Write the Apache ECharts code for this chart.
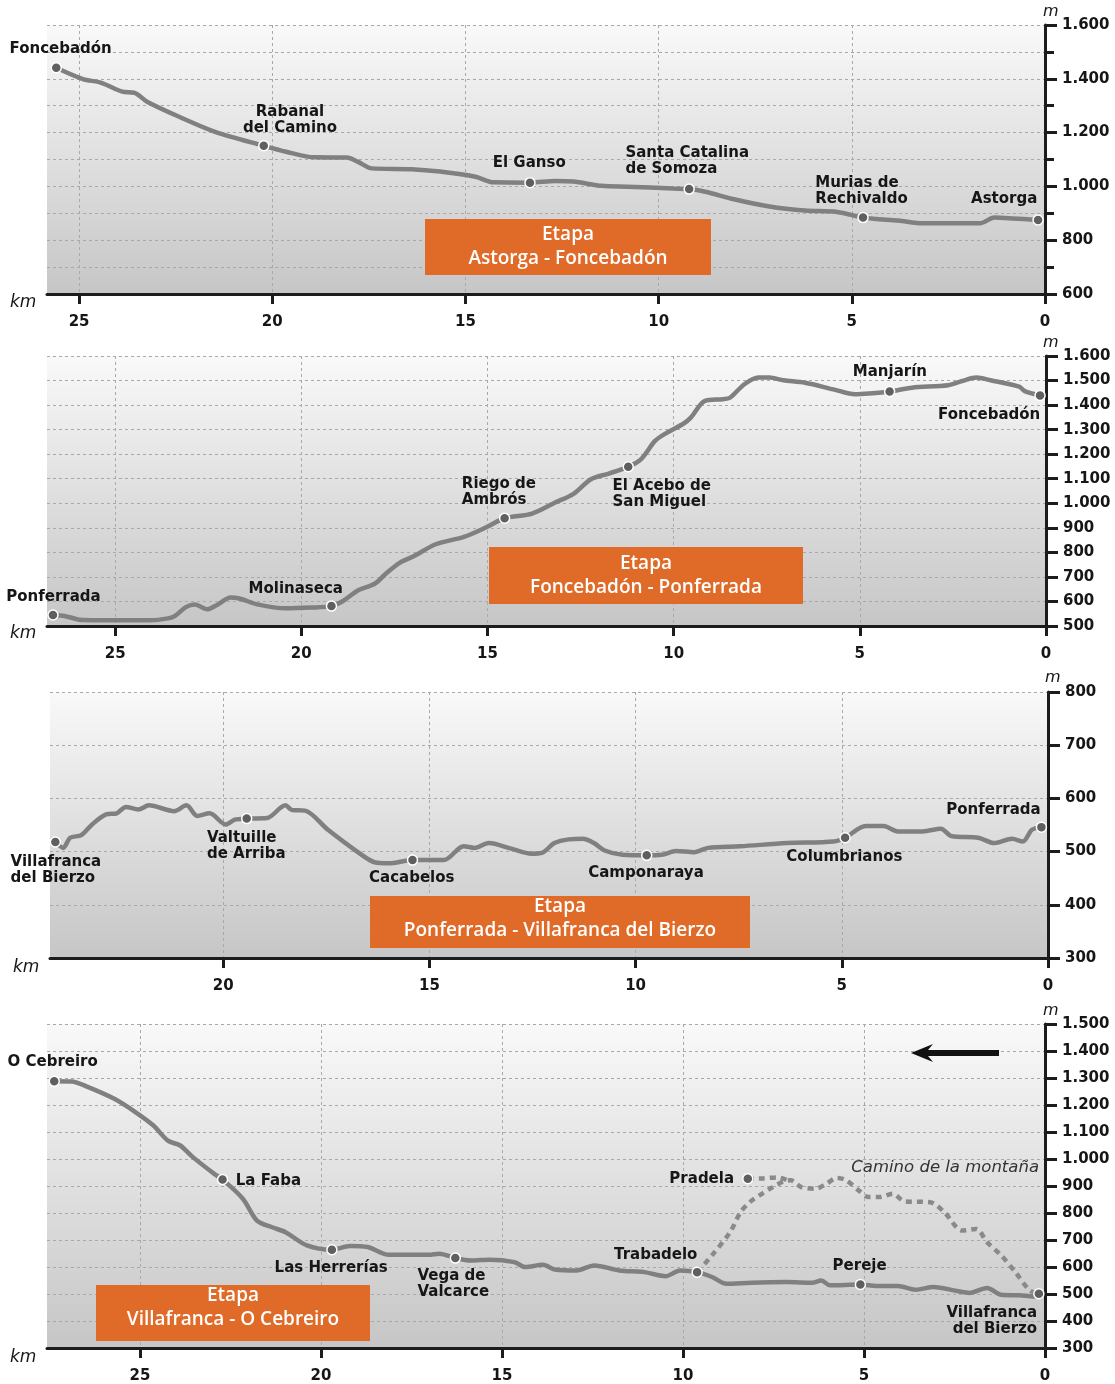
<!DOCTYPE html>
<html><head><meta charset="utf-8">
<script src="https://cdn.jsdelivr.net/npm/echarts@6.0.0/dist/echarts.min.js"></script>
<style>html,body{margin:0;padding:0;background:#fff}#c{width:1115px;height:1384px}</style>
</head><body><div id="c"></div>
<script>
// ---------- DATA ----------
// Panel 1: Astorga - Foncebadón
const p1Km   = [25.59,24.90,24.44,23.88,23.56,23.24,22.41,21.48,20.22,19.64,18.90,18.07,17.79,17.42,16.40,15.66,14.74,14.28,13.33,12.67,12.21,11.47,10.82,9.62,9.21,8.79,8.05,7.13,6.21,5.38,4.71,4.36,3.80,3.16,1.68,1.31,0.85,0.18];
const p1Elev = [1441,1399,1386,1352,1348,1315,1259,1203,1151,1129,1108,1107,1092,1067,1064,1055,1036,1015,1014,1020,1018,1002,999,992,990,980,952,925,910,905,884,879,873,863,863,884,881,875];
const t1Names = ['Foncebadón','Rabanal\ndel Camino','El Ganso','Santa Catalina\nde Somoza','Murias de\nRechivaldo','Astorga'];
const t1Km    = [25.59,20.22,13.33,9.21,4.71,0.18];
const t1Elev  = [1441,1151,1014,990,884,875];

// Panel 2: Foncebadón - Ponferrada
const p2Km   = [26.67,26.36,25.88,25.21,24.06,23.58,23.39,23.10,22.86,22.53,22.24,21.90,21.66,21.18,20.42,19.75,19.19,18.88,18.50,18.02,17.73,17.35,16.97,16.39,15.63,15.05,14.54,13.80,13.18,12.70,12.22,11.74,11.22,10.88,10.50,10.21,9.73,9.54,9.16,8.68,8.49,8.10,7.72,7.43,7.05,6.47,5.71,5.13,4.75,4.20,3.60,2.63,2.25,1.87,1.49,0.72,0.57,0.16];
const p2Elev = [545,541,524,523,523,531,541,577,588,568,588,616,612,588,572,575,581,602,643,673,713,758,785,833,863,901,939,958,1003,1037,1098,1121,1149,1179,1254,1285,1325,1349,1417,1424,1430,1485,1512,1512,1501,1491,1464,1444,1447,1455,1471,1481,1498,1512,1501,1475,1457,1439];
const t2Names = ['Ponferrada','Molinaseca','Riego de\nAmbrós','El Acebo de\nSan Miguel','Manjarín','Foncebadón'];
const t2Km    = [26.67,19.19,14.54,11.22,4.20,0.16];
const t2Elev  = [545,581,939,1149,1455,1439];

// Panel 3: Ponferrada - Villafranca del Bierzo
const p3Km   = [24.07,23.88,23.71,23.44,23.18,22.84,22.58,22.36,22.06,21.80,21.19,20.89,20.63,20.33,19.94,19.72,19.43,18.94,18.49,18.33,18.02,17.46,16.77,16.33,15.99,15.41,14.65,14.17,13.91,13.56,13.04,12.52,12.26,11.97,11.62,11.28,11.01,10.75,10.32,9.73,9.37,9.02,8.58,8.24,7.46,6.33,5.20,4.92,4.42,3.99,3.64,3.04,2.60,2.34,1.69,1.30,0.87,0.61,0.39,0.16];
const p3Elev = [518,507,526,531,551,570,572,584,579,587,576,587,567,572,551,560,562,563,587,578,577,541,501,480,478,484,484,510,507,516,506,496,498,516,523,524,516,502,494,493,494,501,499,507,510,516,519,526,548,548,538,538,543,529,526,516,524,519,541,546];
const t3Names = ['Villafranca\ndel Bierzo','Valtuille\nde Arriba','Cacabelos','Camponaraya','Columbrianos','Ponferrada'];
const t3Km    = [24.07,19.43,15.41,9.73,4.92,0.16];
const t3Elev  = [518,562,484,493,526,546];

// Panel 4: Villafranca - O Cebreiro
const p4Km   = [27.37,26.89,26.50,25.71,25.12,24.63,24.23,23.89,23.54,22.95,22.72,22.16,21.77,21.37,20.98,20.39,19.70,19.20,18.71,18.12,17.03,16.73,16.29,15.85,15.35,14.66,14.36,13.87,13.54,12.94,12.45,11.76,11.07,10.48,10.08,9.61,9.20,8.80,8.11,7.13,6.43,6.18,5.94,5.10,4.66,4.07,3.57,3.08,2.39,2.09,1.60,1.21,0.71,0.31,0.17];
const p4Elev = [1288,1287,1270,1223,1173,1124,1068,1050,1007,945,924,853,772,748,729,680,664,678,674,645,645,649,633,624,627,618,600,608,591,587,606,587,581,566,587,581,563,538,542,544,542,550,532,535,530,530,516,526,510,504,522,497,495,491,501];
const mtKm   = [9.61,9.20,8.70,8.41,8.16,7.82,7.52,7.22,7.03,6.73,6.34,6.04,5.75,5.49,5.15,4.86,4.56,4.21,3.87,3.18,2.78,2.29,1.90,1.60,1.21,0.82,0.42,0.17];
const mtElev = [581,643,729,803,840,871,896,917,921,896,890,908,930,921,884,859,859,871,843,840,803,735,741,692,643,581,513,501];
const spurKm   = [8.21,7.80,7.40,7.10];
const spurElev = [927,928,932,921];
const t4Names = ['O Cebreiro','La Faba','Las Herrerías','Vega de\nValcarce','Trabadelo','Pradela','Pereje','Villafranca\ndel Bierzo'];
const t4Km    = [27.37,22.72,19.70,16.29,9.61,8.21,5.10,0.17];
const t4Elev  = [1288,924,664,633,581,927,535,501];
const mtName = 'Camino de la montaña';

const stageTitles = ['Etapa\nAstorga - Foncebadón','Etapa\nFoncebadón - Ponferrada','Etapa\nPonferrada - Villafranca del Bierzo','Etapa\nVillafranca - O Cebreiro'];
const kmTicks = [0,5,10,15,20,25];
const kmMax   = [25.83,26.83,24.2,27.57];
const elevMin = [600,500,300,300];
const elevMax = [1600,1600,800,1500];
const elevStep= [200,100,100,100];

// ---------- STYLE / LAYOUT ----------
const grids = [
  {left:47, top:25,   width:998, height:269},
  {left:47, top:356,  width:999, height:270},
  {left:50, top:692,  width:998, height:266},
  {left:47, top:1024, width:998, height:325}
];
// label placement [align, dx, dy] per town (relative to the dot centre)
const place = [
  [['left',-46,-19],['center',27,-26],['center',0,-20],['left',-63,-28],['left',-47,-27],['right',0,-21]],
  [['left',-46,-18],['center',-35,-17],['left',-42,-26],['left',-15,27],['center',1,-20],['right',1,19]],
  [['left',-44,28],['left',-39,27],['center',0,18],['center',0,18],['center',0,19],['right',0,-17]],
  [['left',-46,-19],['left',14,1],['center',0,18],['left',-37,26],['right',1,-17],['right',-13,0],['center',0,-19],['right',-1,27]]
];
const boxes = [
  {x:425,y:219,w:286,h:56,ty:247},
  {x:489,y:547,w:314,h:57,ty:576},
  {x:370,y:896,w:380,h:52,ty:919},
  {x:96,y:1285,w:274,h:56,ty:1308}
];
const kmLabelPos = [[10,303],[10,634],[13,968],[10,1358]];
const mLabelPos  = [[1043,12],[1043,343],[1045,678],[1043,1011]];

const FONT = 'DejaVu Sans';
const AX = '#1c1c1c';
const TXT = '#161616';
const DOT = 10;
const zip = (a,b) => a.map((v,i)=>[v,b[i]]);
function yFmt(v){ return v>=1000 ? Math.floor(v/1000)+'.'+String(v%1000).padStart(3,'0') : String(v); }

const profiles = [[p1Km,p1Elev],[p2Km,p2Elev],[p3Km,p3Elev],[p4Km,p4Elev]];
const towns = [[t1Names,t1Km,t1Elev],[t2Names,t2Km,t2Elev],[t3Names,t3Km,t3Elev],[t4Names,t4Km,t4Elev]];

const chart = echarts.init(document.getElementById('c'), null, {renderer:'canvas'});
const bg = () => new echarts.graphic.LinearGradient(0,0,0,1,[{offset:0,color:'#f9f9f9'},{offset:1,color:'#c6c6c6'}]);
const dash = {type:[3,3], color:'#a9a9a9', width:1};

const option = {
  animation:false,
  backgroundColor:'#ffffff',
  grid: grids.map(g => Object.assign({show:true, borderWidth:0, backgroundColor:bg(), containLabel:false}, g)),
  xAxis: grids.map((g,i)=>({
    type:'value', gridIndex:i, inverse:true, min:0, max:kmMax[i], interval:5,
    axisLine:{show:true, onZero:false, lineStyle:{color:AX, width:3}},
    axisTick:{show:true, customValues:kmTicks.filter(v=>v<=kmMax[i]), length:10, lineStyle:{color:AX, width:3}},
    axisLabel:{customValues:kmTicks.filter(v=>v<=kmMax[i]), margin:21, fontSize:15, fontWeight:'bold', fontFamily:FONT, color:TXT},
    splitLine:{show:true, lineStyle:dash}
  })),
  yAxis: grids.map((g,i)=>({
    type:'value', gridIndex:i, position:'right', min:elevMin[i], max:elevMax[i], interval:elevStep[i],
    axisLine:{show:true, lineStyle:{color:AX, width:3}},
    axisTick:{show:true, length:12, lineStyle:{color:AX, width:3}},
    minorTick:{show:elevStep[i]===200, splitNumber:2, length:9, lineStyle:{color:AX, width:3}},
    axisLabel:{margin:17, fontSize:15, fontWeight:'bold', fontFamily:FONT, color:TXT, formatter:yFmt},
    splitLine:{show:true, lineStyle:dash},
    minorSplitLine:{show:elevStep[i]===200, lineStyle:dash}
  })),
  series: [],
  graphic: []
};

profiles.forEach((p,i)=>{
  option.series.push({
    type:'line', xAxisIndex:i, yAxisIndex:i, data:zip(p[0],p[1]), showSymbol:false, smooth:0.3,
    lineStyle:{color:'#808080', width:4.5}, z:3, silent:true
  });
});
[[mtKm,mtElev],[spurKm,spurElev]].forEach(d=>{
  option.series.push({
    type:'line', xAxisIndex:3, yAxisIndex:3, data:zip(d[0],d[1]), showSymbol:false, smooth:0.3,
    lineStyle:{color:'#8a8a8a', width:4.5, type:[6,5]}, z:2, silent:true
  });
});
towns.forEach((t,i)=>{
  option.series.push({
    type:'scatter', xAxisIndex:i, yAxisIndex:i, symbolSize:DOT, z:5, silent:true,
    itemStyle:{color:'#5f5f5f', borderColor:'#ffffff', borderWidth:1.5, opacity:1},
    data: t[0].map((n,j)=>({
      name:n, value:[t[1][j], t[2][j]],
      label:{show:true, position:[DOT/2+place[i][j][1], DOT/2+place[i][j][2]+1], align:place[i][j][0], verticalAlign:'middle'}
    })),
    label:{show:true, formatter:'{b}', color:TXT, opacity:1, fontSize:15, fontWeight:'bold', fontFamily:FONT, lineHeight:16, textBorderWidth:0}
  });
});

boxes.forEach((b,i)=>{
  option.graphic.push({type:'rect', shape:{x:b.x,y:b.y,width:b.w,height:b.h}, style:{fill:'#e06a27'}, z:10});
  option.graphic.push({type:'text', x:b.x+b.w/2, y:b.ty, z:11,
    style:{text:stageTitles[i], fill:'#ffffff', fontSize:19, fontWeight:600, fontFamily:'Open Sans', align:'center', verticalAlign:'middle', lineHeight:24}});
});
kmLabelPos.forEach(p=>{
  option.graphic.push({type:'text', x:p[0], y:p[1], z:11,
    style:{text:'km', fill:TXT, fontSize:17, fontStyle:'italic', fontFamily:FONT, align:'left', verticalAlign:'middle'}});
});
mLabelPos.forEach(p=>{
  option.graphic.push({type:'text', x:p[0], y:p[1], z:11,
    style:{text:'m', fill:TXT, fontSize:16, fontStyle:'italic', fontFamily:FONT, align:'left', verticalAlign:'middle'}});
});
option.graphic.push({type:'text', x:1039, y:1168, z:11,
  style:{text:mtName, fill:'#333', fontSize:16.5, fontStyle:'italic', fontFamily:FONT, align:'right', verticalAlign:'middle'}});
option.graphic.push({type:'polygon', z:11,
  shape:{points:[[911,1053],[933,1044],[928,1050],[999,1050],[999,1056],[928,1056],[933,1062]]},
  style:{fill:'#111'}});

chart.setOption(option);
</script></body></html>
